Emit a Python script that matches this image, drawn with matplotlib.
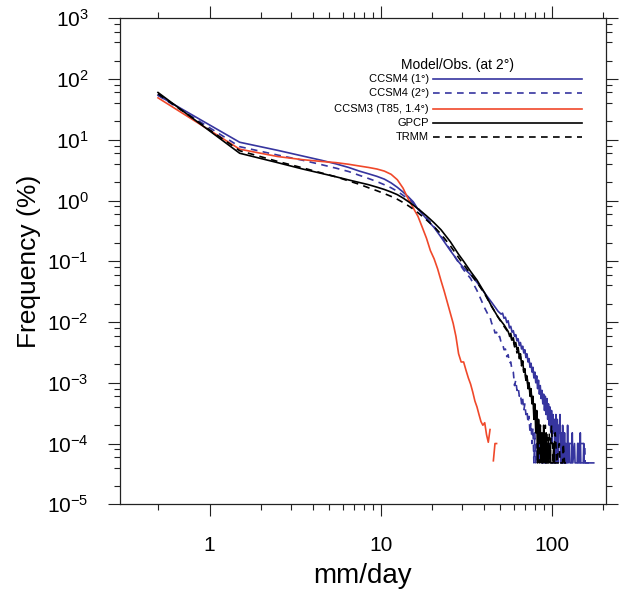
import numpy as np
import matplotlib
matplotlib.use("Agg")
import matplotlib.pyplot as plt

plt.rcParams['font.family'] = ['Liberation Sans', 'DejaVu Sans']
plt.rcParams['mathtext.fontset'] = 'custom'
plt.rcParams['mathtext.rm'] = 'Liberation Sans'
plt.rcParams['axes.unicode_minus'] = False

FLOOR = 4.8e-5  # one count

# (mm/day bin centre, frequency %)
ccsm4_1deg = [
    (0.5, 54), (1.5, 9.1), (2.5, 6.7), (3.5, 5.4), (4.5, 4.6), (5.5, 4.0), (6.5, 3.5),
    (7.5, 3.05), (8.5, 2.75), (9.5, 2.5), (10.5, 2.25), (11.5, 1.95), (12.5, 1.65),
    (13.5, 1.38), (14.5, 1.15), (15.5, 0.95), (16.5, 0.72), (17.5, 0.60), (18.5, 0.50),
    (19.5, 0.42), (20.5, 0.36), (22.5, 0.25), (25.5, 0.15), (28.5, 0.098), (30.5, 0.078),
    (33.5, 0.060), (36.5, 0.045), (40.5, 0.030), (44.5, 0.021), (48.5, 0.015),
    (50.5, 0.0135), (51.5, 0.014), (52.5, 0.0115), (53.5, 0.012), (54.5, 0.0098),
    (55.5, 0.0105), (56.5, 0.008), (57.5, 0.0085), (58.5, 0.0068), (59.5, 0.0072),
    (60.5, 0.0058), (61.5, 0.0062), (62.5, 0.0049), (63.5, 0.0053), (64.5, 0.0041),
    (65.5, 0.0046), (66.5, 0.0036), (67.5, 0.004), (68.5, 0.0031), (69.5, 0.0035),
    (70.5, 0.0026), (71.5, 0.003), (72.5, 0.0022), (73.5, 0.0025), (74.5, 0.0018),
    (75.5, 0.0021), (76.5, 0.0015), (77.5, 0.0018), (78.5, 0.0012), (79.5, 0.0015),
    (80.5, 0.001), (81.5, 0.0013), (82.5, 8.0e-4), (83.5, 1.1e-3), (84.5, 6.5e-4),
    (85.5, 9.0e-4), (86.5, 5.5e-4), (87.5, 7.5e-4), (88.5, 4.5e-4), (89.5, 6.5e-4),
    (90.5, 3.5e-4), (91.5, 6.0e-4), (92.5, 3.0e-4), (93.5, 5.5e-4), (94.5, 2.5e-4),
    (95.5, 4.5e-4), (96.5, 2.0e-4), (97.5, 4.0e-4), (98.5, 1.5e-4), (99.5, 3.5e-4),
    (100.5, 1.0e-4), (101.5, 3.0e-4), (102.5, 1.5e-4), (103.5, 2.5e-4), (104.5, FLOOR),
    (105.5, 3.0e-4), (106.5, 1.0e-4), (107.5, 2.5e-4), (108.5, FLOOR), (109.5, 2.0e-4),
    (110.5, 1.5e-4), (111.5, 3.0e-4), (112.5, FLOOR), (113.5, 1.5e-4), (114.5, FLOOR),
    (115.5, 2.0e-4), (116.5, 1.0e-4), (117.5, FLOOR), (118.5, 1.5e-4), (119.5, FLOOR),
    (120.5, 1.0e-4), (122.5, FLOOR), (123.5, 2.0e-4), (124.5, FLOOR), (126.5, 1.0e-4),
    (127.5, FLOOR), (130.5, FLOOR), (131.5, 1.5e-4), (132.5, FLOOR), (135.5, 1.0e-4),
    (136.5, FLOOR), (140.5, FLOOR), (141.5, 1.0e-4), (142.5, FLOOR), (145.5, FLOOR),
    (146.5, 1.5e-4), (147.5, FLOOR), (152.5, FLOOR), (153.5, 1.0e-4), (154.5, FLOOR),
    (175.5, FLOOR),
]

ccsm4_2deg = [
    (0.5, 54), (1.5, 7.7), (2.5, 5.6), (3.5, 4.6), (4.5, 3.9), (5.5, 3.4), (6.5, 3.0),
    (7.5, 2.6), (8.5, 2.3), (9.5, 2.05), (10.5, 1.82), (11.5, 1.62), (12.5, 1.42),
    (13.5, 1.22), (14.5, 1.05), (15.5, 0.90), (16.5, 0.75), (17.5, 0.62), (18.5, 0.52),
    (19.5, 0.44), (20.5, 0.37), (22.5, 0.26), (25.5, 0.155), (28.5, 0.095), (30.5, 0.072),
    (33.5, 0.052), (36.5, 0.033), (40.5, 0.017), (42.5, 0.013), (43.5, 0.012),
    (44.5, 0.0095), (45.5, 0.0085), (46.5, 0.0066), (47.5, 0.0068), (48.5, 0.0055),
    (49.5, 0.0058), (50.5, 0.0046), (51.5, 0.0044), (52.5, 0.0035), (53.5, 0.0036),
    (54.5, 0.0027), (55.5, 0.0029), (56.5, 0.0021), (57.5, 0.0022), (58.5, 0.0016),
    (59.5, 0.0015), (60.5, 9.0e-4), (61.5, 1.1e-3), (62.5, 7.5e-4), (63.5, 8.5e-4),
    (64.5, 6.0e-4), (65.5, 6.5e-4), (66.5, 4.5e-4), (67.5, 5.5e-4), (68.5, 3.5e-4),
    (69.5, 4.5e-4), (70.5, 3.0e-4), (71.5, 3.5e-4), (72.5, 2.2e-4), (73.5, 2.8e-4),
    (74.5, 1.5e-4), (75.5, 2.2e-4), (76.5, 1.0e-4), (77.5, 1.8e-4), (78.5, FLOOR),
    (79.5, 1.5e-4), (80.5, FLOOR), (81.5, 1.0e-4), (82.5, FLOOR), (83.5, 1.5e-4),
    (84.5, FLOOR), (85.5, 1.0e-4), (86.5, FLOOR), (88.5, FLOOR), (89.5, 1.0e-4),
    (90.5, FLOOR), (95.5, FLOOR), (96.5, 1.0e-4), (97.5, FLOOR), (105.5, FLOOR),
    (106.5, 1.0e-4), (107.5, FLOOR), (115.5, FLOOR), (116.5, 1.0e-4), (117.5, FLOOR),
    (121.5, FLOOR), (122.5, 1.0e-4), (155.5, 1.0e-4), (156.5, FLOOR), (175.5, FLOOR),
]

ccsm3 = [
    (0.5, 49), (1.5, 7.0), (2.5, 5.3), (3.5, 4.7), (4.5, 4.4), (5.5, 4.2), (6.5, 3.95),
    (7.5, 3.7), (8.5, 3.5), (9.5, 3.3), (10.5, 3.05), (11.5, 2.7), (12.5, 2.2),
    (13.5, 1.6), (14.5, 1.05), (15.5, 0.75), (16.5, 0.55), (17.5, 0.36), (18.5, 0.24),
    (19.5, 0.15), (20.5, 0.11), (21.5, 0.075), (22.5, 0.048), (23.5, 0.032),
    (24.5, 0.021), (25.5, 0.014), (26.5, 0.0095), (27.5, 0.0058), (28.5, 0.003),
    (29.5, 0.0022), (30.5, 0.0022), (31.5, 0.0016), (32.5, 0.0012), (33.5, 9.5e-4),
    (34.5, 7.0e-4), (35.5, 5.0e-4), (36.5, 4.0e-4), (37.5, 3.0e-4), (38.5, 2.3e-4),
    (39.5, 2.0e-4), (40.5, 2.2e-4), (41.5, 1.4e-4), (42.5, 1.05e-4), (43.5, 1.7e-4),
    (44.5, np.nan), (45.5, 5.2e-5), (46.5, 1.0e-4), (47.5, 1.0e-4),
]

gpcp = [
    (0.5, 60), (1.5, 6.0), (2.5, 4.2), (3.5, 3.3), (4.5, 2.8), (5.5, 2.45), (6.5, 2.18),
    (7.5, 1.98), (8.5, 1.82), (9.5, 1.66), (10.5, 1.52), (11.5, 1.38), (12.5, 1.25),
    (13.5, 1.10), (14.5, 0.96), (15.5, 0.84), (16.5, 0.73), (17.5, 0.64), (18.5, 0.56),
    (19.5, 0.49), (20.5, 0.43), (22.5, 0.33), (25.5, 0.21), (28.5, 0.13), (30.5, 0.10),
    (33.5, 0.068), (36.5, 0.049), (40.5, 0.030), (44.5, 0.018), (48.5, 0.012),
    (52.5, 0.009), (55.5, 0.007), (56.5, 0.006), (57.5, 0.0065), (58.5, 0.005),
    (59.5, 0.0055), (60.5, 0.0042), (61.5, 0.0046), (62.5, 0.0035), (63.5, 0.0038),
    (64.5, 0.0026), (65.5, 0.003), (66.5, 0.002), (67.5, 0.0023), (68.5, 0.0015),
    (69.5, 0.0017), (70.5, 0.0011), (71.5, 0.0013), (72.5, 8.0e-4), (73.5, 1.0e-3),
    (74.5, 6.0e-4), (75.5, 8.0e-4), (76.5, 4.5e-4), (77.5, 6.0e-4), (78.5, 2.5e-4),
    (79.5, 4.5e-4), (80.5, 1.5e-4), (81.5, 3.5e-4), (82.5, FLOOR), (83.5, 2.5e-4),
    (84.5, 1.0e-4), (85.5, 2.0e-4), (86.5, FLOOR), (87.5, 1.5e-4), (88.5, FLOOR),
    (89.5, 2.0e-4), (90.5, 1.0e-4), (91.5, FLOOR), (92.5, 1.5e-4), (93.5, FLOOR),
    (94.5, 1.0e-4), (95.5, FLOOR), (97.5, 1.0e-4), (98.5, FLOOR), (101.5, FLOOR),
    (102.5, 1.0e-4), (103.5, FLOOR), (108.5, FLOOR),
]

trmm = [
    (0.5, 57), (1.5, 6.6), (2.5, 4.4), (3.5, 3.45), (4.5, 2.85), (5.5, 2.45), (6.5, 2.1),
    (7.5, 1.85), (8.5, 1.62), (9.5, 1.45), (10.5, 1.30), (11.5, 1.17), (12.5, 1.05),
    (13.5, 0.93), (14.5, 0.82), (15.5, 0.72), (16.5, 0.63), (17.5, 0.55), (18.5, 0.48),
    (19.5, 0.42), (20.5, 0.37), (22.5, 0.28), (25.5, 0.18), (28.5, 0.115), (30.5, 0.088),
    (33.5, 0.062), (36.5, 0.045), (40.5, 0.029), (44.5, 0.018), (48.5, 0.012),
    (52.5, 0.0085), (55.5, 0.0068), (56.5, 0.0058), (57.5, 0.006), (58.5, 0.0047),
    (59.5, 0.005), (60.5, 0.0039), (61.5, 0.0041), (62.5, 0.0031), (63.5, 0.0034),
    (64.5, 0.0025), (65.5, 0.0027), (66.5, 0.0019), (67.5, 0.0022), (68.5, 0.0015),
    (69.5, 0.0017), (70.5, 0.0011), (71.5, 0.0013), (72.5, 8.5e-4), (73.5, 9.5e-4),
    (74.5, 6.5e-4), (75.5, 7.0e-4), (76.5, 4.8e-4), (77.5, 5.5e-4), (78.5, 3.5e-4),
    (79.5, 4.0e-4), (80.5, 2.5e-4), (81.5, 3.0e-4), (82.5, 1.5e-4), (83.5, 2.5e-4),
    (84.5, FLOOR), (85.5, 2.0e-4), (86.5, 1.0e-4), (87.5, 1.5e-4), (88.5, FLOOR),
    (89.5, 1.5e-4), (90.5, 1.0e-4), (91.5, 2.0e-4), (92.5, FLOOR), (93.5, 1.5e-4),
    (94.5, FLOOR), (95.5, 1.0e-4), (96.5, 1.5e-4), (97.5, FLOOR), (98.5, 1.0e-4),
    (99.5, 2.0e-4), (100.5, 1.0e-4), (101.5, FLOOR), (103.5, 1.0e-4), (104.5, 1.5e-4),
    (105.5, 1.0e-4), (106.5, FLOOR), (110.5, 1.0e-4), (111.5, FLOOR), (115.5, FLOOR),
    (116.5, 1.0e-4), (118.5, FLOOR), (121.5, FLOOR),
]

legend_title = "Model/Obs. (at 2\u00b0)"
labels = ["CCSM4 (1\u00b0)", "CCSM4 (2\u00b0)", "CCSM3 (T85, 1.4\u00b0)", "GPCP", "TRMM"]
series = [ccsm4_1deg, ccsm4_2deg, ccsm3, gpcp, trmm]

BLUE = '#36359f'
RED = '#f0482a'
DASH = (4.0, 3.2)
styles = [
    dict(color=BLUE, ls='-'),
    dict(color=BLUE, ls=(0, DASH)),
    dict(color=RED, ls='-'),
    dict(color='black', ls='-'),
    dict(color='black', ls=(0, DASH)),
]

yexp = list(range(-5, 4))
xmajor = [1, 10, 100]
xminor = [0.5] + list(range(2, 10)) + list(range(20, 100, 10)) + [200]


def main():
    fig = plt.figure(figsize=(6.19, 5.93), dpi=100)
    ax = fig.add_axes([0.1939, 0.1496, 0.7851, 0.8196])

    for data, st in zip(series, styles):
        x, y = np.array(data, dtype=float).T
        ax.plot(x, y, lw=1.2, **st)

    ax.set_xscale('log')
    ax.set_yscale('log')
    ax.set_xlim(0.3, 207)
    ax.set_ylim(1e-5, 1e3)

    ax.set_yticks([10.0 ** e for e in yexp])
    ax.set_yticklabels([r'$\mathdefault{10^{%d}}$' % e for e in yexp])
    ax.yaxis.set_minor_locator(matplotlib.ticker.LogLocator(base=10, subs=(2, 4, 6, 8), numticks=20))
    ax.yaxis.set_minor_formatter(matplotlib.ticker.NullFormatter())
    ax.set_xticks(xmajor)
    ax.set_xticklabels([str(v) for v in xmajor])
    ax.set_xticks(xminor, minor=True)
    ax.xaxis.set_minor_formatter(matplotlib.ticker.NullFormatter())

    ax.tick_params(which='both', direction='out', top=True, right=True, width=0.8, color='#222222')
    ax.tick_params(which='major', length=8.6, labelsize=15)
    ax.tick_params(which='minor', length=4.0)
    ax.tick_params(axis='y', which='major', pad=14)
    ax.tick_params(axis='x', which='major', pad=14)
    for sp in ax.spines.values():
        sp.set_linewidth(0.9)
        sp.set_color('#222222')

    ax.set_xlabel('mm/day', fontsize=20, labelpad=6)
    ax.set_ylabel('Frequency (%)', fontsize=19, labelpad=4)

    # legend drawn by hand (labels left of lines, NCL style)
    ax.text(0.695, 0.904, legend_title, transform=ax.transAxes, ha='center', va='center', fontsize=10)
    leg_y = [0.8745, 0.8457, 0.814, 0.785, 0.755]
    for yy, lab, st in zip(leg_y, labels, styles):
        ax.text(0.636, yy, lab, transform=ax.transAxes, ha='right', va='center', fontsize=8)
        ax.plot([0.644, 0.951], [yy, yy], transform=ax.transAxes, lw=1.2, **st)

    fig.savefig('out.png', dpi=100)


if __name__ == '__main__':
    main()
